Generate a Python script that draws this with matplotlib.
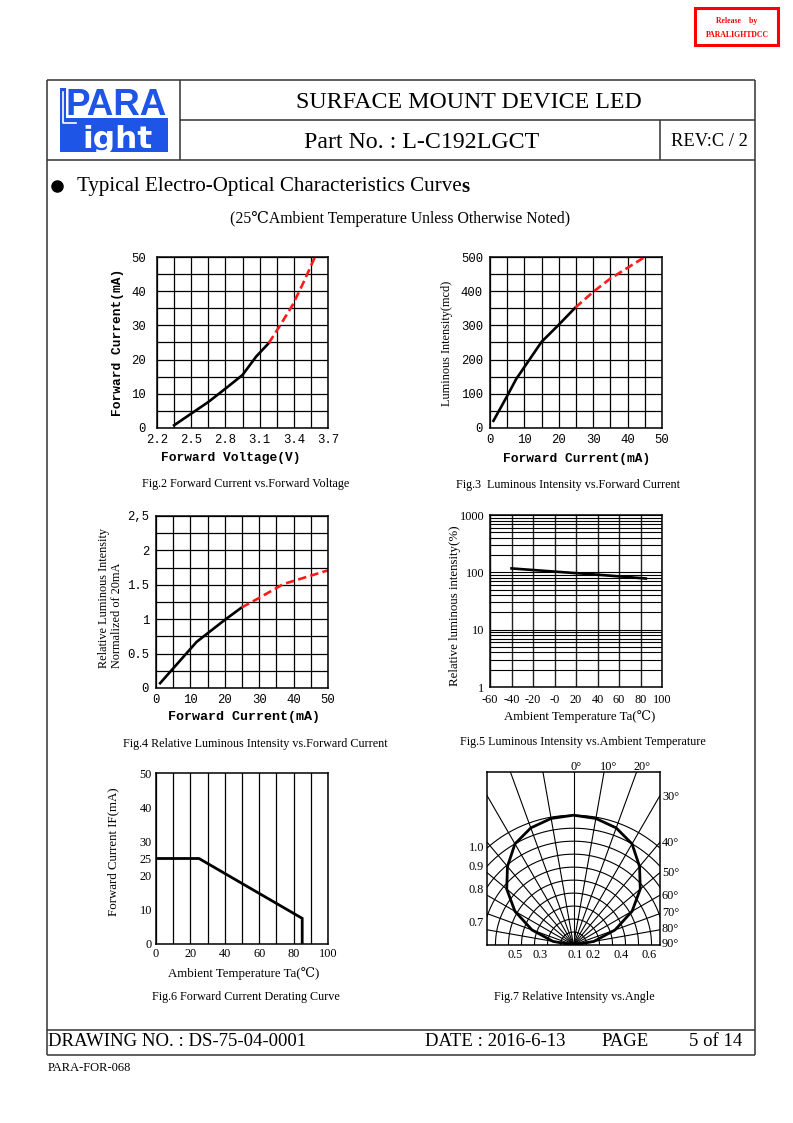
import matplotlib
matplotlib.use("Agg")
import matplotlib.pyplot as plt
import numpy as np
from matplotlib.patches import Rectangle

W, H = 793, 1123
SERIF = ["Liberation Serif", "DejaVu Serif", "Noto Sans CJK SC"]
MONO = ["Liberation Mono", "DejaVu Sans Mono"]
SANS = ["Liberation Sans", "DejaVu Sans"]
plt.rcParams["font.family"] = SERIF

# ---------------- data ----------------
# Fig.2 Forward current vs forward voltage
fig2_vf_solid = [2.35, 2.50, 2.65, 2.80, 2.95, 3.07, 3.18]
fig2_if_solid = [0.8, 4.2, 7.6, 11.5, 15.5, 20.9, 24.8]
fig2_vf_dash = [3.18, 3.28, 3.39, 3.47, 3.54, 3.585]
fig2_if_dash = [24.8, 30.0, 36.0, 41.5, 46.6, 50.0]
fig2_xticks = [2.2, 2.5, 2.8, 3.1, 3.4, 3.7]
fig2_yticks = [0, 10, 20, 30, 40, 50]

# Fig.3 Luminous intensity vs forward current
fig3_if_solid = [1.0, 4.9, 7.6, 15.0, 19.9, 24.8]
fig3_iv_solid = [21, 92, 143, 252, 301, 352]
fig3_if_dash = [24.8, 30.0, 35.0, 45.0]
fig3_iv_dash = [352, 398, 437, 500]
fig3_xticks = [0, 10, 20, 30, 40, 50]
fig3_yticks = [0, 100, 200, 300, 400, 500]

# Fig.4 Relative luminous intensity vs forward current
fig4_if_solid = [1.2, 11.8, 20.0, 24.9]
fig4_rel_solid = [0.07, 0.67, 0.99, 1.17]
fig4_if_dash = [24.9, 30.0, 37.0, 50.0]
fig4_rel_dash = [1.17, 1.31, 1.51, 1.71]
fig4_xticks = [0, 10, 20, 30, 40, 50]
fig4_yticks = [0, 0.5, 1, 1.5, 2, 2.5]
fig4_ylabels = ["0", "0.5", "1", "1.5", "2", "2,5"]

# Fig.5 Relative luminous intensity vs ambient temperature
fig5_ta = [-40, 0, 40, 85]
fig5_rel = [117, 103, 91, 78]
fig5_xticks = [-60, -40, -20, 0, 20, 40, 60, 80, 100]
fig5_xlabels = ["-60", "-40", "-20", "-0", "20", "40", "60", "80", "100"]
fig5_yticks = [1, 10, 100, 1000]

# Fig.6 Forward current derating curve
fig6_ta = [0, 25, 85, 85]
fig6_if = [25, 25, 7.5, 0]
fig6_xticks = [0, 20, 40, 60, 80, 100]
fig6_yticks = [0, 10, 20, 25, 30, 40, 50]

# Fig.7 Relative intensity vs angle
fig7_angle = [0, 10, 20, 30, 40, 50, 60, 70, 80, 90]
fig7_rel = [1.0, 0.99, 0.96, 0.90, 0.79, 0.67, 0.52, 0.34, 0.16, 0.0]

# ---------------- page ----------------
fig = plt.figure(figsize=(W / 100, H / 100), dpi=100)
page = fig.add_axes([0, 0, 1, 1])
page.set_xlim(0, W)
page.set_ylim(H, 0)
page.axis("off")

LC = "#333333"


def hline(y, x0, x1, lw=1.1, c=LC):
    page.plot([x0, x1], [y, y], color=c, lw=lw, solid_capstyle="butt")


def vline(x, y0, y1, lw=1.1, c=LC):
    page.plot([x, x], [y0, y1], color=c, lw=lw, solid_capstyle="butt")


def T(x, y, s, size, family=SERIF, ha="left", va="center", **kw):
    return page.text(x, y, s, fontsize=size, family=family, ha=ha, va=va, **kw)


# frame
hline(80, 47, 755)
hline(120, 180, 755)
hline(160, 47, 755)
vline(47, 80, 1055)
vline(755, 80, 1055)
vline(180, 80, 160)
vline(660, 120, 160)
hline(1030, 47, 755)
hline(1055, 47, 755)

# release stamp
page.add_patch(Rectangle((695, 8), 83, 37, fill=False, edgecolor="red", lw=2.2))
T(737, 21, "Release    by", 5.6, ha="center", color="red", weight="bold")
T(737, 35, "PARALIGHTDCC", 5.6, ha="center", color="red", weight="bold")

# logo
BLUE = "#1f55e6"
page.add_patch(Rectangle((60, 118), 108, 34, color=BLUE, lw=0))
page.add_patch(Rectangle((60, 88), 6, 32, color=BLUE, lw=0))
page.plot([63, 63, 76], [92, 123, 123], color="white", lw=1.2)
T(66, 115, "PARA", 26.5, family=SANS, color=BLUE, weight="bold", va="baseline")
T(82, 147.5, "ight", 22.5, family=["DejaVu Sans"], color="white", weight="bold", va="baseline")

# header text
T(469, 103, "SURFACE MOUNT DEVICE LED", 17.2, ha="center")
T(422, 142, "Part No. : L-C192LGCT", 17.2, ha="center")
T(709, 142, "REV:C / 2", 13.3, ha="center")

# section title
page.plot([57], [186], "o", color="black", ms=8)
t1 = T(77, 187, "Typical Electro-Optical Characteristics Curve", 15.1)
fig.canvas.draw()
bb = t1.get_window_extent(renderer=fig.canvas.get_renderer())
x_end = bb.x1 * W / fig.bbox.width
T(x_end, 187, "s", 15.1, weight="bold")
T(400, 219, "(25\u2103Ambient Temperature Unless Otherwise Noted)", 11.3, ha="center")

# footer
T(48, 1042, "DRAWING NO. : DS-75-04-0001", 13.5)
T(425, 1042, "DATE : 2016-6-13", 13.5)
T(601, 1042, "PAGE", 13.5)
T(689, 1042, "5 of 14", 13.5)
T(48, 1068, "PARA-FOR-068", 9)

# captions
T(246, 484, "Fig.2 Forward Current vs.Forward Voltage", 8.7, ha="center")
T(568, 485, "Fig.3  Luminous Intensity vs.Forward Current", 8.7, ha="center")
T(255, 744, "Fig.4 Relative Luminous Intensity vs.Forward Current", 8.7, ha="center")
T(583, 742, "Fig.5 Luminous Intensity vs.Ambient Temperature", 8.7, ha="center")
T(246, 997, "Fig.6 Forward Current Derating Curve", 8.7, ha="center")
T(574, 997, "Fig.7 Relative Intensity vs.Angle", 8.7, ha="center")


def add_ax(l, t, r, b):
    return fig.add_axes([l / W, 1 - b / H, (r - l) / W, (b - t) / H])


def grid_style(ax, lw=0.9):
    for s in ax.spines.values():
        s.set_linewidth(1.1)
        s.set_color("black")
    ax.tick_params(which="both", length=0)
    ax.tick_params(axis="x", pad=4)
    ax.tick_params(axis="y", pad=5)
    ax.grid(which="both", color="black", linewidth=lw)
    ax.set_axisbelow(True)


RED = dict(color="#ff1a1a", lw=1.9, dashes=(3.2, 1.6))
BLK = dict(color="black", lw=1.9)
TICK_MONO = dict(fontsize=8.8, family=MONO)

# ---- Fig.2 ----
ax2 = add_ax(157, 257, 328, 428)
ax2.set_xlim(2.2, 3.7)
ax2.set_ylim(0, 50)
ax2.set_xticks(fig2_xticks)
ax2.set_xticklabels([f"{v:.1f}" for v in fig2_xticks], **TICK_MONO)
ax2.set_xticks([2.35, 2.65, 2.95, 3.25, 3.55], minor=True)
ax2.set_yticks(fig2_yticks)
ax2.set_yticklabels([str(v) for v in fig2_yticks], **TICK_MONO)
ax2.set_yticks([5, 15, 25, 35, 45], minor=True)
grid_style(ax2)
ax2.tick_params(axis="y", pad=8)
ax2.plot(fig2_vf_solid, fig2_if_solid, **BLK)
ax2.plot(fig2_vf_dash, fig2_if_dash, **RED)
T(231, 458, "Forward Voltage(V)", 9.3, family=MONO, ha="center", weight="bold")
T(118, 342, "Forward Current(mA)", 9.3, family=MONO, ha="center", weight="bold", rotation=90)

# ---- Fig.3 ----
ax3 = add_ax(490, 257, 662, 428)
ax3.set_xlim(0, 50)
ax3.set_ylim(0, 500)
ax3.set_xticks(fig3_xticks)
ax3.set_xticklabels([str(v) for v in fig3_xticks], **TICK_MONO)
ax3.set_xticks([5, 15, 25, 35, 45], minor=True)
ax3.set_yticks(fig3_yticks)
ax3.set_yticklabels([str(v) for v in fig3_yticks], **TICK_MONO)
ax3.set_yticks([50, 150, 250, 350, 450], minor=True)
grid_style(ax3)
ax3.plot(fig3_if_solid, fig3_iv_solid, **BLK)
ax3.plot(fig3_if_dash, fig3_iv_dash, **RED)
T(577, 459, "Forward Current(mA)", 9.3, family=MONO, ha="center", weight="bold")
T(447, 343, "Luminous Intensity(mcd)", 8.8, ha="center", rotation=90)

# ---- Fig.4 ----
ax4 = add_ax(156, 516, 328, 688)
ax4.set_xlim(0, 50)
ax4.set_ylim(0, 2.5)
ax4.set_xticks(fig4_xticks)
ax4.set_xticklabels([str(v) for v in fig4_xticks], **TICK_MONO)
ax4.set_xticks([5, 15, 25, 35, 45], minor=True)
ax4.set_yticks(fig4_yticks)
ax4.set_yticklabels(fig4_ylabels, **TICK_MONO)
ax4.set_yticks([0.25, 0.75, 1.25, 1.75, 2.25], minor=True)
grid_style(ax4)
ax4.plot(fig4_if_solid, fig4_rel_solid, **BLK)
ax4.plot(fig4_if_dash, fig4_rel_dash, **RED)
T(244, 717, "Forward Current(mA)", 9.6, family=MONO, ha="center", weight="bold")
page.text(104, 668, "Relative Luminous Intensity", fontsize=8.8, family=SERIF,
          rotation=90, rotation_mode="anchor", ha="left", va="center")
page.text(117, 668, "Normalized of 20mA", fontsize=8.8, family=SERIF,
          rotation=90, rotation_mode="anchor", ha="left", va="center")

# ---- Fig.5 ----
ax5 = add_ax(490, 515, 662, 687)
ax5.set_yscale("log")
ax5.set_xlim(-60, 100)
ax5.set_ylim(1, 1000)
ax5.set_xticks(fig5_xticks)
ax5.set_xticklabels(fig5_xlabels, fontsize=8.8, family=SERIF)
ax5.set_yticks(fig5_yticks)
ax5.set_yticklabels([str(v) for v in fig5_yticks], fontsize=8.8, family=SERIF)
ax5.set_yticks([m * d for d in (1, 10, 100) for m in range(2, 10)], minor=True)
ax5.yaxis.set_minor_formatter(matplotlib.ticker.NullFormatter())
grid_style(ax5, lw=0.8)
ax5.tick_params(axis="x", pad=5)
ax5.tick_params(axis="y", pad=4)
ax5.xaxis.grid(True, color="#222222", linewidth=1.0)
ax5.plot(fig5_ta, fig5_rel, **BLK)
T(580, 717, "Ambient Temperature Ta(\u2103)", 9.3, ha="center")
T(455, 606, "Relative luminous intensity(%)", 9.3, ha="center", rotation=90)

# ---- Fig.6 ----
ax6 = add_ax(156, 773, 328, 944)
ax6.set_xlim(0, 100)
ax6.set_ylim(0, 50)
ax6.set_xticks(fig6_xticks)
ax6.set_xticklabels([str(v) for v in fig6_xticks], fontsize=8.8, family=SERIF)
ax6.set_xticks([10, 30, 50, 70, 90], minor=True)
ax6.set_yticks(fig6_yticks)
ax6.set_yticklabels([str(v) for v in fig6_yticks], fontsize=8.8, family=SERIF)
ax6.set_yticks([10, 20, 30, 40], minor=True)
for s in ax6.spines.values():
    s.set_linewidth(1.1)
ax6.tick_params(which="both", length=0, pad=3)
ax6.grid(which="minor", color="black", linewidth=0.9)
ax6.xaxis.grid(True, which="major", color="black", linewidth=0.9)
ax6.set_axisbelow(True)
ax6.plot(fig6_ta, fig6_if, color="black", lw=2.0, solid_joinstyle="miter")
T(244, 974, "Ambient Temperature Ta(\u2103)", 9.3, ha="center")
T(113, 852, "Forward Current IF(mA)", 9.3, ha="center", rotation=90)

# ---- Fig.7 ----
ax7 = add_ax(487, 772, 660, 945)
ax7.set_xlim(-0.665, 0.665)
ax7.set_ylim(0, 1.333)
ax7.set_xticks([])
ax7.set_yticks([])
for s in ax7.spines.values():
    s.set_linewidth(1.1)
for a in range(-90, 91, 10):
    r = np.radians(a)
    ax7.plot([0, 2 * np.sin(r)], [0, 2 * np.cos(r)], color="black", lw=0.8)
th = np.radians(np.linspace(-90, 90, 181))
for k in range(1, 11):
    rr = k / 10
    ax7.plot(rr * np.sin(th), rr * np.cos(th), color="black", lw=0.8)
ang = np.radians(np.array([-a for a in fig7_angle[::-1]] + fig7_angle[1:]))
rel = np.array(fig7_rel[::-1] + fig7_rel[1:])
ax7.plot(rel * np.sin(ang), rel * np.cos(ang), color="black", lw=2.0)

for s, y in [("1.0", 848), ("0.9", 867), ("0.8", 890), ("0.7", 923)]:
    T(484, y, s, 8.8, ha="right")
for s, x in [("0.5", 515), ("0.3", 540), ("0.1", 575), ("0.2", 593), ("0.4", 621), ("0.6", 649)]:
    T(x, 955, s, 8.8, ha="center")
for s, y in [("30\u00b0", 797), ("40\u00b0", 843), ("50\u00b0", 873), ("60\u00b0", 896),
             ("70\u00b0", 913), ("80\u00b0", 929), ("90\u00b0", 944)]:
    T(662, y, s, 8.8)
for s, x in [("0\u00b0", 576), ("10\u00b0", 609), ("20\u00b0", 642)]:
    T(x, 767, s, 8.8, ha="center")

fig.savefig("out.png", dpi=100)
